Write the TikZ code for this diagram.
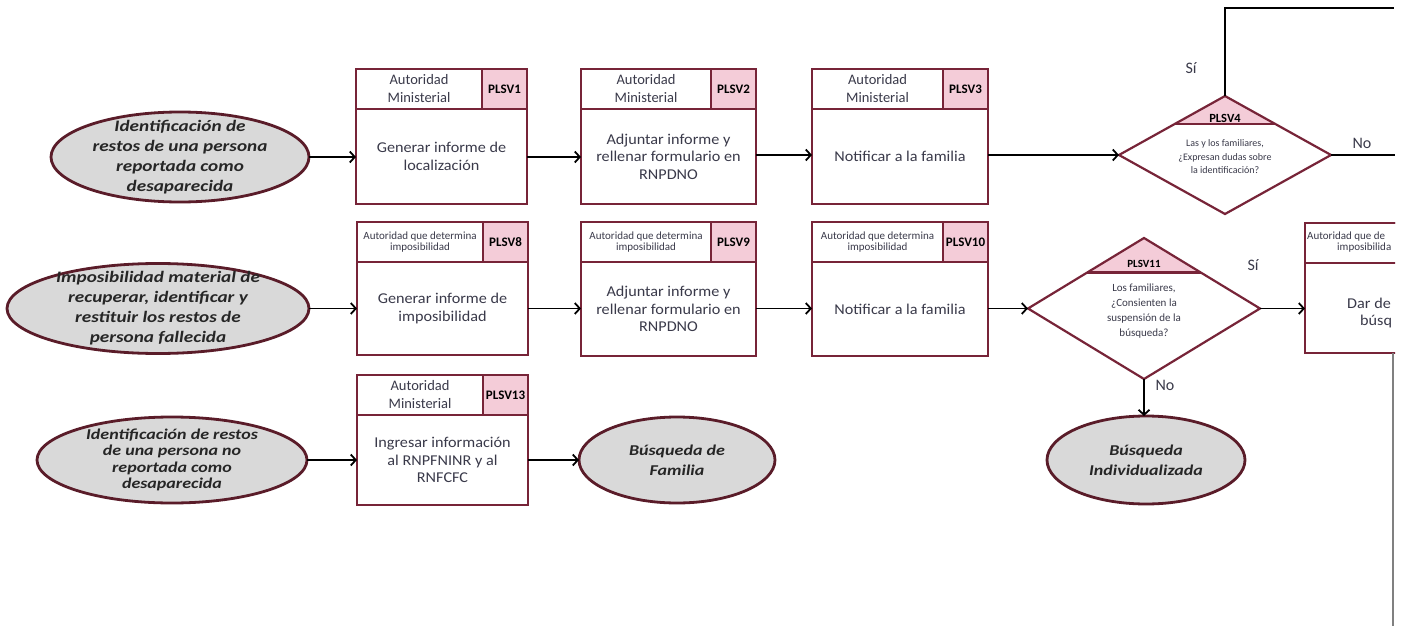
\documentclass[tikz,border=0pt]{standalone}
\usepackage{fontspec}
\setmainfont{Carlito}
\newfontfamily\bodyf[FakeStretch=1.08]{Carlito}
\newfontfamily\ellf[FakeStretch=1.2]{Carlito}
\usetikzlibrary{shapes.geometric,arrows.meta,calc}
\definecolor{wine}{HTML}{772438}
\definecolor{ewine}{HTML}{5A1C29}
\definecolor{pinkc}{HTML}{F4CCD8}
\definecolor{grayc}{HTML}{D9D9D9}
\definecolor{txt}{HTML}{3A3A4A}
\tikzset{
 procbox/.style={draw=wine, line width=2.8pt, fill=white, inner sep=0, outer sep=0, anchor=north west},
 hdrbox/.style={draw=wine, line width=2.8pt, inner sep=0, outer sep=0, anchor=north west, minimum height=40, text=txt, align=center},
 codebox/.style={draw=wine, line width=2.8pt, fill=pinkc, inner sep=0, outer sep=0, anchor=north east, minimum width=45, minimum height=40, font=\fontsize{13}{15}\selectfont\bfseries, text=black},
 bodytxt/.style={text=txt, align=center, font=\bodyf\fontsize{15}{17.5}\selectfont},
 hdrbig/.style={font=\fontsize{14.5}{18}\selectfont},
 hdrsmall/.style={font=\fontsize{11}{11}\selectfont},
 ell/.style={ellipse, draw=ewine, line width=2.8pt, fill=grayc, inner sep=0, outer sep=0},
 elltxt/.style={align=center, text=black!85, font=\ellf\bfseries\itshape\fontsize{16}{20}\selectfont},
 conn/.style={line width=1.8pt, -{Straight Barb[length=5pt,width=11pt]}},
 plain/.style={line width=1.8pt},
 dec/.style={diamond, fill=white, inner sep=0, outer sep=0},
 decline/.style={draw=wine, line width=2.2pt, line join=miter},
 dectxt/.style={align=center, text=txt},
 lbl/.style={text=txt, font=\fontsize{16}{18}\selectfont},
}
\begin{document}
\begin{tikzpicture}[x=1pt,y=-1pt]
\fill[white] (0,0) rectangle (1406,626);
\useasboundingbox (0,0) rectangle (1406,626);

% ---------- Row 1 ----------
\node[ell, minimum width=258, minimum height=90] (e1) at (180,157) {};
\node[elltxt] (e1t) at (e1) {Identificación de\\restos de una persona\\reportada como\\desaparecida};

\node[procbox, minimum width=171, minimum height=135] (b1) at (356,69) {};
\node[hdrbox, hdrbig, minimum width=126] (b1h) at (b1.north west) {Autoridad\\Ministerial};
\node[codebox] (b1c) at (b1.north east) {PLSV1};
\node[bodytxt] (b1t) at ($(b1h.south -| b1.center)!0.5!(b1.south)$) {Generar informe de\\localización};

\node[procbox, minimum width=175, minimum height=135] (b2) at (581,69) {};
\node[hdrbox, hdrbig, minimum width=130] (b2h) at (b2.north west) {Autoridad\\Ministerial};
\node[codebox] (b2c) at (b2.north east) {PLSV2};
\node[bodytxt] (b2t) at ($(b2h.south -| b2.center)!0.5!(b2.south)$) {Adjuntar informe y\\rellenar formulario en\\RNPDNO};

\node[procbox, minimum width=176, minimum height=135] (b3) at (812,69) {};
\node[hdrbox, hdrbig, minimum width=131] (b3h) at (b3.north west) {Autoridad\\Ministerial};
\node[codebox] (b3c) at (b3.north east) {PLSV3};
\node[bodytxt] (b3t) at ($(b3h.south -| b3.center)!0.5!(b3.south)$) {Notificar a la familia};

\node[dec, minimum width=212, minimum height=118] (d1) at (1225,155) {};
\fill[pinkc] (d1.north) -- ($(d1.north)!0.48!(d1.west)$) -- ($(d1.north)!0.48!(d1.east)$) -- cycle;
\draw[decline] ($(d1.north)!0.48!(d1.west)$) -- ($(d1.north)!0.48!(d1.east)$);
\draw[decline] (d1.north) -- (d1.east) -- (d1.south) -- (d1.west) -- cycle;
\node[font=\fontsize{12.5}{14}\selectfont\bfseries] (d1c) at (1225,118) {PLSV4};
\node[dectxt, font=\fontsize{10}{13.5}\selectfont] (d1t) at (1225,157) {Las y los familiares,\\¿Expresan dudas sobre\\la identificación?};

\draw[conn] (e1.east) -- (e1.east -| b1.west);
\draw[conn] (b1.east |- e1) -- (b2.west |- e1);
\draw[conn] (b2.east |- d1) -- (b3.west |- d1);
\draw[conn] (b3.east |- d1) -- (d1.west);

\coordinate (tc) at (1225,8);
\coordinate (tr) at (1394,8);
\draw[plain] (d1.north) -- (tc) -- (tr);
\coordinate (nr) at (1395,155);
\draw[plain] (d1.east) -- (nr);
\node[lbl] (si1) at (1191,68) {Sí};
\node[lbl] (no1) at (1362,143) {No};

% ---------- Row 2 ----------
\node[ell, minimum width=302, minimum height=90] (e2) at (158,308.5) {};
\node[elltxt] (e2t) at (e2) {Imposibilidad material de\\recuperar, identificar y\\restituir los restos de\\persona fallecida};

\node[procbox, minimum width=171, minimum height=133] (b8) at (357,222) {};
\node[hdrbox, hdrsmall, minimum width=126] (b8h) at (b8.north west) {Autoridad que determina\\imposibilidad};
\node[codebox] (b8c) at (b8.north east) {PLSV8};
\node[bodytxt] (b8t) at ($(b8h.south -| b8.center)!0.5!(b8.south)$) {Generar informe de\\imposibilidad};

\node[procbox, minimum width=175, minimum height=134] (b9) at (581,222) {};
\node[hdrbox, hdrsmall, minimum width=130] (b9h) at (b9.north west) {Autoridad que determina\\imposibilidad};
\node[codebox] (b9c) at (b9.north east) {PLSV9};
\node[bodytxt] (b9t) at ($(b9h.south -| b9.center)!0.5!(b9.south)$) {Adjuntar informe y\\rellenar formulario en\\RNPDNO};

\node[procbox, minimum width=176, minimum height=134] (b10) at (812,222) {};
\node[hdrbox, hdrsmall, minimum width=131] (b10h) at (b10.north west) {Autoridad que determina\\imposibilidad};
\node[codebox] (b10c) at (b10.north east) {PLSV10};
\node[bodytxt] (b10t) at ($(b10h.south -| b10.center)!0.5!(b10.south)$) {Notificar a la familia};

\node[dec, minimum width=232, minimum height=141] (d2) at (1144,308.5) {};
\fill[pinkc] (d2.north) -- ($(d2.north)!0.49!(d2.west)$) -- ($(d2.north)!0.49!(d2.east)$) -- cycle;
\draw[decline] ($(d2.north)!0.49!(d2.west)$) -- ($(d2.north)!0.49!(d2.east)$);
\draw[decline] (d2.north) -- (d2.east) -- (d2.south) -- (d2.west) -- cycle;
\node[font=\fontsize{11}{13}\selectfont\bfseries] (d2c) at (1144,264) {PLSV11};
\node[dectxt, font=\fontsize{11}{15}\selectfont] (d2t) at (1144,311) {Los familiares,\\¿Consienten la\\suspensión de la\\búsqueda?};

\begin{scope}
\clip (0,0) rectangle (1395,626);
\node[procbox, minimum width=176, minimum height=130] (bp) at (1305,223) {};
\node[hdrbox, minimum width=131] (bph) at (bp.north west) {};
\node[codebox] (bpc) at (bp.north east) {};
\end{scope}
\node[anchor=west, text=txt, font=\fontsize{11}{11}\selectfont, inner sep=0] (bph1) at (1307,237) {Autoridad que de};
\node[anchor=west, text=txt, font=\fontsize{11}{11}\selectfont, inner sep=0] (bph2) at (1337,248) {imposibilida};
\node[anchor=west, text=txt, font=\bodyf\fontsize{15}{17.5}\selectfont, inner sep=0] (bpt1) at (1347,303) {Dar de};
\node[anchor=west, text=txt, font=\bodyf\fontsize{15}{17.5}\selectfont, inner sep=0] (bpt2) at (1360,321) {búsq};

\draw[conn] (e2.east) -- (e2.east -| b8.west);
\draw[conn] (b8.east |- e2) -- (b9.west |- e2);
\draw[conn] (b9.east |- e2) -- (b10.west |- e2);
\draw[conn] (b10.east |- d2) -- (d2.west);
\draw[conn] (d2.east) -- (bp.west |- d2);
\node[lbl] (si2) at (1253,265) {Sí};

\node[ell, minimum width=198, minimum height=88] (e5) at (1146,460) {};
\node[elltxt, font=\ellf\bfseries\itshape\fontsize{15}{20}\selectfont] (e5t) at (e5) {Búsqueda\\Individualizada};
\draw[conn] (d2.south) -- (d2.south |- e5.north);
\node[lbl] (no2) at (1165,385) {No};

\coordinate (vb) at (1393,626);
\draw[line width=1.8pt, gray] (bp.south) -- (vb);

% ---------- Row 3 ----------
\node[ell, minimum width=270, minimum height=86] (e3) at (172,460) {};
\node[elltxt, font=\ellf\bfseries\itshape\fontsize{15}{16.5}\selectfont] (e3t) at (e3) {Identificación de restos\\de una persona no\\reportada como\\desaparecida};

\node[procbox, minimum width=171, minimum height=130] (b13) at (357,375) {};
\node[hdrbox, hdrbig, minimum width=126] (b13h) at (b13.north west) {Autoridad\\Ministerial};
\node[codebox] (b13c) at (b13.north east) {PLSV13};
\node[bodytxt] (b13t) at ($(b13h.south -| b13.center)!0.5!(b13.south)$) {Ingresar información\\al RNPFNINR y al\\RNFCFC};

\node[ell, minimum width=196, minimum height=86] (e4) at (677,460) {};
\node[elltxt, font=\ellf\bfseries\itshape\fontsize{15}{20}\selectfont] (e4t) at (e4) {Búsqueda de\\Familia};

\draw[conn] (e3.east) -- (e3.east -| b13.west);
\draw[conn] (b13.east |- e4) -- (e4.west);
\end{tikzpicture}
\end{document}
